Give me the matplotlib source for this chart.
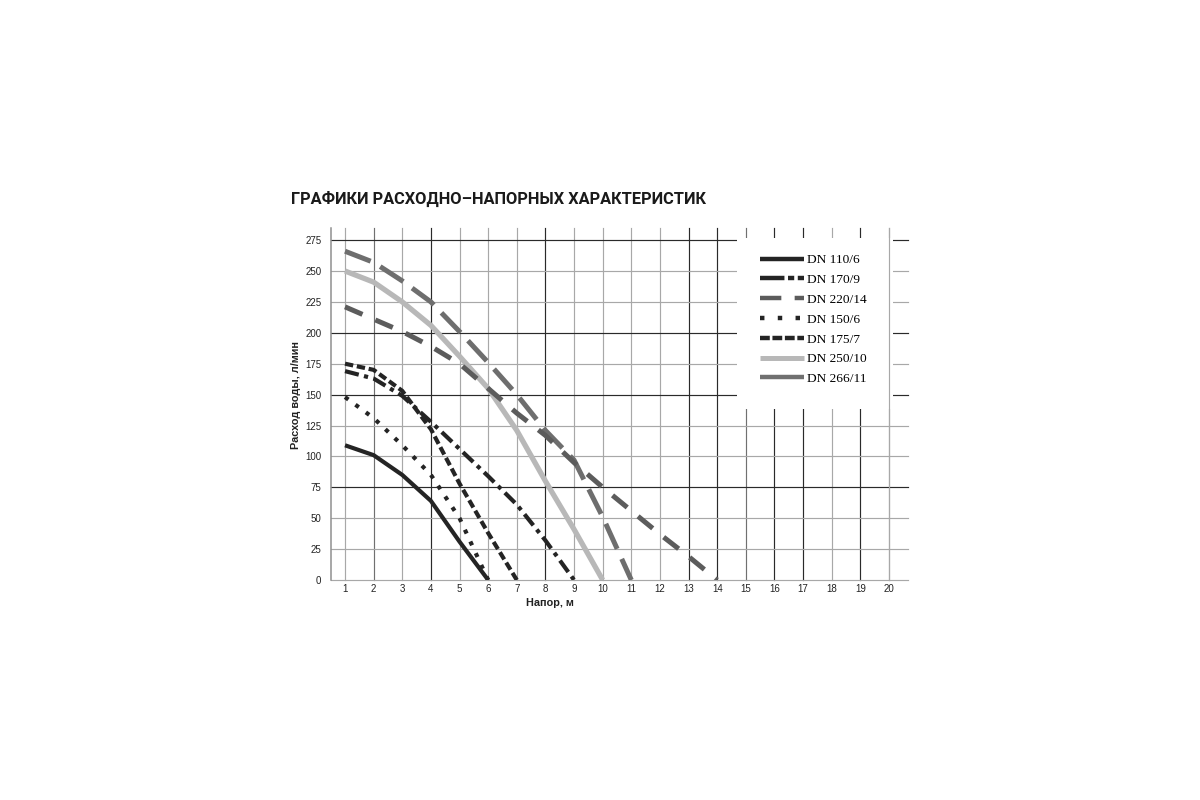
import matplotlib
matplotlib.use("Agg")
import matplotlib.pyplot as plt
from matplotlib.lines import Line2D
from matplotlib.patches import Rectangle

# ---------------- data ----------------
title = "ГРАФИКИ РАСХОДНО–НАПОРНЫХ ХАРАКТЕРИСТИК"
x_label = "Напор, м"
y_label = "Расход воды, л/мин"
x_ticks = list(range(1, 21))
y_ticks = list(range(0, 276, 25))

dn110_x = [1, 2, 3, 4, 5, 6]
dn110_y = [109, 101, 85, 64, 31, 0]

dn170_x = [1, 2, 3, 4, 5, 6, 7, 8, 9]
dn170_y = [169, 163, 149, 128, 106, 84, 61, 32, 0]

dn220_x = [1, 2, 3, 4, 5, 6, 7, 8, 9, 10, 11, 12, 13, 14]
dn220_y = [221, 211, 201, 189, 175, 155, 135, 117, 95, 75, 56, 37, 19, 0]

dn150_x = [1, 2, 3, 4, 5, 6]
dn150_y = [148, 131, 109, 85, 50, 0]

dn175_x = [1, 2, 3, 4, 5, 6, 7]
dn175_y = [175, 170, 153, 122, 78, 38, 0]

dn250_x = [1, 2, 3, 4, 5, 6, 7, 8, 9, 10]
dn250_y = [250, 241, 225, 206, 181, 155, 121, 80, 41, 0]

dn266_x = [1, 2, 3, 4, 5, 6, 7, 8, 9, 10, 11]
dn266_y = [266, 257, 242, 225, 201, 176, 150, 121, 97, 51, 0]

labels = ["DN 110/6", "DN 170/9", "DN 220/14", "DN 150/6",
          "DN 175/7", "DN 250/10", "DN 266/11"]

# ---------------- figure ----------------
fig = plt.figure(figsize=(12, 8), dpi=100)
fig.patch.set_facecolor("white")
L, R, B, T = 331/1200, 908/1200, 1-580/800, 1-228/800
ax = fig.add_axes([L, B, R-L, T-B])
XMIN, XMAX, YMIN, YMAX = 0.51, 20.665, 0, 284.8
ax.set_xlim(XMIN, XMAX)
ax.set_ylim(YMIN, YMAX)
for s in ax.spines.values():
    s.set_visible(False)

DARK = "#2a2a2a"
GRAY = "#a8a8a8"
MID = "#707070"
vcol = [GRAY, MID, GRAY, DARK, GRAY, GRAY, GRAY, DARK, GRAY, GRAY,
        GRAY, GRAY, DARK, DARK, MID, DARK, DARK, GRAY, DARK, GRAY]
hcol = [GRAY, GRAY, GRAY, DARK, GRAY, GRAY, DARK, GRAY, DARK, GRAY, GRAY, DARK]
GLW = 0.85

for xv, c in zip(x_ticks, vcol):
    ax.plot([xv, xv], [YMIN, YMAX], color=c, lw=GLW, zorder=1, clip_on=False)
for yv, c in zip(y_ticks, hcol):
    ax.plot([XMIN, XMAX], [yv, yv], color=c, lw=GLW, zorder=1, clip_on=False)
ax.plot([XMIN, XMIN], [YMIN, YMAX], color="#909090", lw=1.1, zorder=1, clip_on=False)

# white legend box covering grid
ax.add_patch(Rectangle((14.68, 138.3), 20.13-14.68, 276.7-138.3,
                       facecolor="white", edgecolor="none", zorder=2))
ax.plot([20, 20], [YMIN, YMAX], color=GRAY, lw=GLW, zorder=3, clip_on=False)

# ---------------- curves ----------------
BLK = "#242424"
ax.plot(dn250_x, dn250_y, color="#b8b8b8", lw=3.8, zorder=4, solid_capstyle="butt")
ax.plot(dn266_x, dn266_y, color="#6e6e6e", lw=3.6, zorder=4,
        linestyle=(0, (5.5, 2.2)), dash_capstyle="butt")
ax.plot(dn220_x, dn220_y, color="#5c5c5c", lw=3.6, zorder=4,
        linestyle=(0, (3.8, 2.8)), dash_capstyle="butt")
ax.plot(dn110_x, dn110_y, color=BLK, lw=3.0, zorder=5, solid_capstyle="butt")
ax.plot(dn170_x, dn170_y, color=BLK, lw=3.0, zorder=5,
        linestyle=(0, (3.4, 1.3, 1.0, 1.3)), dash_capstyle="butt")
ax.plot(dn150_x, dn150_y, color=BLK, lw=3.0, zorder=5,
        linestyle=(0, (1.0, 2.1)), dash_capstyle="butt")
ax.plot(dn175_x, dn175_y, color=BLK, lw=3.0, zorder=5,
        linestyle=(0, (2.0, 0.9)), dash_capstyle="butt")

# ---------------- legend ----------------
handles = [
    Line2D([], [], color=BLK, lw=3.2, solid_capstyle="butt"),
    Line2D([], [], color=BLK, lw=3.2, linestyle=(0, (5.5, 0.8, 1.4, 0.8, 3.0)), dash_capstyle="butt"),
    Line2D([], [], color="#5c5c5c", lw=3.2, linestyle=(0, (4.8, 3.0)), dash_capstyle="butt"),
    Line2D([], [], color=BLK, lw=3.2, linestyle=(0, (1.0, 3.0)), dash_capstyle="butt"),
    Line2D([], [], color=BLK, lw=3.2, linestyle=(0, (2.2, 0.6)), dash_capstyle="butt"),
    Line2D([], [], color="#b8b8b8", lw=3.6, solid_capstyle="butt"),
    Line2D([], [], color="#707070", lw=3.2, solid_capstyle="butt"),
]
leg = ax.legend(handles, labels, loc="upper left",
                bbox_to_anchor=((760-331)/577, (580-254)/352),
                frameon=False, borderpad=0, borderaxespad=0,
                handlelength=3.3, handletextpad=0.2, labelspacing=0.56,
                prop={"family": "Liberation Serif", "size": 9.6})
leg.set_zorder(6)

# ---------------- ticks & labels ----------------
ax.set_xticks(x_ticks)
ax.set_yticks(y_ticks)
ax.tick_params(axis="both", length=0, labelsize=7.0, colors="#222222")
ax.tick_params(axis="x", pad=3)
ax.tick_params(axis="y", pad=7)
for lab in ax.get_xticklabels() + ax.get_yticklabels():
    lab.set_family("Liberation Sans")

ax.set_xlabel(x_label, fontsize=7.8, fontweight="bold", family="Liberation Sans",
              color="#222222")
ax.xaxis.set_label_coords((550-331)/577, -(603-580)/352)
ax.xaxis.label.set_va("center")
ax.set_ylabel(y_label, fontsize=7.8, fontweight="bold", family="Liberation Sans",
              color="#222222")
ax.yaxis.set_label_coords(-(331-296)/577, (580-395)/352)
ax.yaxis.label.set_va("center")

fig.text(291/1200, 1-199/800, title, fontsize=11.8, fontweight="bold",
         family="Roboto", color="#1a1a1a", ha="left", va="center")

fig.savefig("out.png", dpi=100, facecolor="white")
